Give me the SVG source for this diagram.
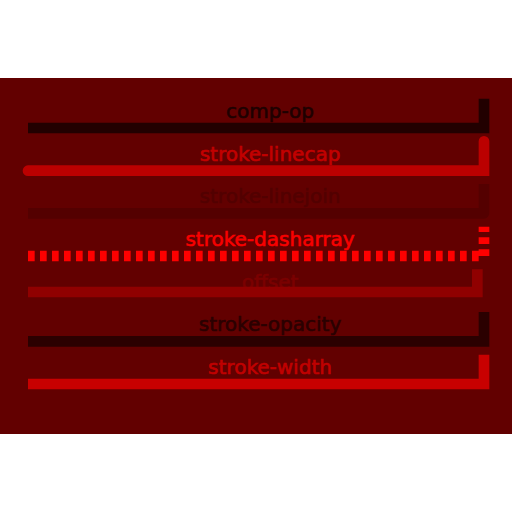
<svg xmlns="http://www.w3.org/2000/svg" width="512" height="512" viewBox="0 0 512 512">
<style>
.lbl{font-family:"DejaVu Sans",sans-serif;font-size:20px;text-anchor:middle;stroke-width:0.6}
.ln{fill:none;stroke-width:10.67;stroke-linecap:butt;stroke-linejoin:miter}
</style>
<rect x="0" y="0" width="512" height="512" fill="#ffffff"/>
<rect id="background" x="0" y="78" width="512" height="356" fill="#620000"/>
<g id="comp-op">
<text class="lbl" x="270" y="118" fill="#1e0000" stroke="#1e0000">comp-op</text>
<path class="ln" d="M28 128H484V98.67" stroke="#220000"/>
</g>
<g id="stroke-linecap">
<text class="lbl" x="270" y="160.67" fill="#c20000" stroke="#c20000">stroke-linecap</text>
<path class="ln" d="M28 170.67H484V141.33" stroke="#bb0000" style="stroke-linecap:round"/>
</g>
<g id="stroke-linejoin">
<text class="lbl" x="270" y="203.33" fill="#520000" stroke="#520000">stroke-linejoin</text>
<path class="ln" d="M28 213.33H484V184" stroke="#540000" style="stroke-linejoin:round"/>
</g>
<g id="stroke-dasharray">
<text class="lbl" x="270" y="246" fill="#f80000" stroke="#f80000">stroke-dasharray</text>
<path class="ln" d="M28 256H484V226.67" stroke="#ff0000" stroke-dasharray="6.67 5.33"/>
</g>
<g id="offset">
<text class="lbl" x="270" y="288.67" fill="#7a0000" stroke="#7a0000">offset</text>
<path class="ln" d="M28 292H477.33V269.33" stroke="#900000"/>
</g>
<g id="stroke-opacity">
<text class="lbl" x="270" y="331.33" fill="#2a0000" stroke="#2a0000">stroke-opacity</text>
<path class="ln" d="M28 341.33H484V312" stroke="#2b0000"/>
</g>
<g id="stroke-width">
<text class="lbl" x="270" y="374" fill="#c00000" stroke="#c00000">stroke-width</text>
<path class="ln" d="M28 384H484V354.67" stroke="#c80000"/>
</g>
</svg>
